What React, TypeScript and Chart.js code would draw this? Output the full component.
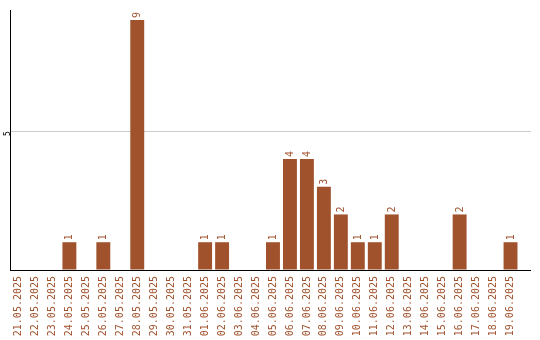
import React, { useEffect, useRef } from 'react';
import { Chart, registerables } from 'chart.js';

Chart.register(...registerables);

const dates: string[] = [
  '21.05.2025', '22.05.2025', '23.05.2025', '24.05.2025', '25.05.2025',
  '26.05.2025', '27.05.2025', '28.05.2025', '29.05.2025', '30.05.2025',
  '31.05.2025', '01.06.2025', '02.06.2025', '03.06.2025', '04.06.2025',
  '05.06.2025', '06.06.2025', '07.06.2025', '08.06.2025', '09.06.2025',
  '10.06.2025', '11.06.2025', '12.06.2025', '13.06.2025', '14.06.2025',
  '15.06.2025', '16.06.2025', '17.06.2025', '18.06.2025', '19.06.2025',
];

const counts: number[] = [
  0, 0, 0, 1, 0, 1, 0, 9, 0, 0,
  0, 1, 1, 0, 0, 1, 4, 4, 3, 2,
  1, 1, 2, 0, 0, 0, 2, 0, 0, 1,
];

const yTicks: number[] = [0, 5];
const yMax = 9.36;

const BROWN = '#a0522d';
const FONT = "'DejaVu Sans Mono', monospace";

const valueLabels = {
  id: 'valueLabels',
  afterDatasetsDraw(chart: any) {
    const ctx = chart.ctx;
    const meta = chart.getDatasetMeta(0);
    ctx.save();
    ctx.fillStyle = BROWN;
    ctx.font = `10px ${FONT}`;
    ctx.textAlign = 'left';
    ctx.textBaseline = 'middle';
    meta.data.forEach((bar: any, i: number) => {
      const v = counts[i];
      if (!v) return;
      ctx.save();
      ctx.translate(bar.x + 0.5, bar.y - 2);
      ctx.rotate(-Math.PI / 2);
      ctx.fillText(String(v), 0, 0);
      ctx.restore();
    });
    ctx.restore();
  },
};

const extendLines = {
  id: 'extendLines',
  afterDraw(chart: any) {
    const ctx = chart.ctx;
    const area = chart.chartArea;
    const y = chart.scales.y;
    const endX = 531;
    ctx.save();
    ctx.lineWidth = 1;
    const gy = Math.round(y.getPixelForValue(5)) + 0.5;
    ctx.strokeStyle = '#cccccc';
    ctx.beginPath();
    ctx.moveTo(area.right, gy);
    ctx.lineTo(endX, gy);
    ctx.stroke();
    const by = Math.round(y.getPixelForValue(0)) + 0.5;
    ctx.strokeStyle = '#000000';
    ctx.beginPath();
    ctx.moveTo(area.left, by);
    ctx.lineTo(endX, by);
    ctx.stroke();
    ctx.restore();
  },
};

export default function App() {
  const ref = useRef<HTMLCanvasElement | null>(null);

  useEffect(() => {
    document.body.style.margin = '0';
    const canvas = ref.current;
    if (!canvas) return;
    const chart = new Chart(canvas, {
      type: 'bar',
      data: {
        labels: dates,
        datasets: [
          {
            data: counts,
            backgroundColor: BROWN,
            borderWidth: 0,
            categoryPercentage: 1,
            barPercentage: 0.82,
          },
        ],
      },
      options: {
        animation: false,
        responsive: false,
        maintainAspectRatio: false,
        layout: { padding: { top: 10, right: 21, bottom: 0, left: 0 } },
        plugins: {
          legend: { display: false },
          tooltip: { enabled: false },
        },
        scales: {
          x: {
            grid: { display: false, drawTicks: false },
            border: { display: false },
            ticks: {
              color: BROWN,
              font: { family: FONT, size: 10 },
              minRotation: 90,
              maxRotation: 90,
              autoSkip: false,
              padding: 6,
            },
            afterFit(scale: any) {
              scale.height = 70;
            },
          },
          y: {
            min: 0,
            max: yMax,
            grid: { color: '#cccccc', drawTicks: false },
            border: { display: true, color: '#000000', width: 1 },
            afterBuildTicks(scale: any) {
              scale.ticks = yTicks.map((v) => ({ value: v }));
            },
            ticks: {
              color: '#000000',
              font: { family: FONT, size: 8 },
              minRotation: 90,
              maxRotation: 90,
              padding: 2,
              callback: (v: any) => (v === 0 ? '' : String(v)),
            },
            afterFit(scale: any) {
              scale.width = 10;
            },
          },
        },
      },
      plugins: [valueLabels, extendLines],
    });
    return () => chart.destroy();
  }, []);

  return (
    <div style={{ width: 540, height: 340 }}>
      <canvas ref={ref} width={540} height={340} style={{ display: 'block' }} />
    </div>
  );
}
